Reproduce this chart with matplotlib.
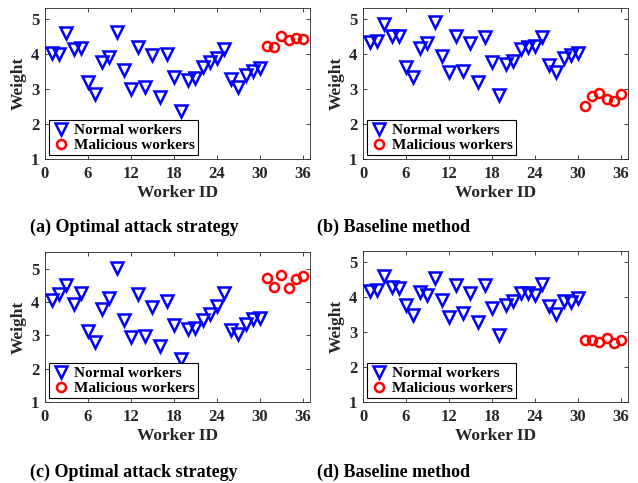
import numpy as np
import matplotlib.pyplot as plt

worker_normal = np.arange(1, 31)
worker_malicious = np.arange(31, 37)

# (a) optimal attack strategy
a_normal = [4.03, 4.0, 4.6, 4.12, 4.15, 3.2, 2.85, 3.75, 3.9, 4.62,
            3.53, 2.98, 4.18, 3.04, 3.96, 2.76, 3.98, 3.33, 2.37, 3.25,
            3.3, 3.63, 3.77, 3.88, 4.12, 3.27, 3.04, 3.39, 3.52, 3.6]
a_malicious = [4.21, 4.2, 4.5, 4.39, 4.45, 4.41]

# (b) baseline method
b_normal = [4.34, 4.37, 4.84, 4.5, 4.51, 3.63, 3.33, 4.17, 4.31, 4.9,
            3.93, 3.49, 4.5, 3.5, 4.29, 3.2, 4.46, 3.77, 2.83, 3.7,
            3.79, 4.12, 4.2, 4.22, 4.46, 3.68, 3.49, 3.87, 3.96, 4.03]
b_malicious = [2.51, 2.78, 2.87, 2.71, 2.64, 2.84]

# (c) optimal attack strategy
c_normal = [4.07, 4.25, 4.5, 3.94, 4.28, 3.14, 2.81, 3.79, 4.11, 5.03,
            3.47, 2.96, 4.23, 2.99, 3.86, 2.69, 4.03, 3.31, 2.29, 3.19,
            3.22, 3.47, 3.64, 3.89, 4.28, 3.16, 3.04, 3.34, 3.49, 3.52]
c_malicious = [4.73, 4.45, 4.8, 4.41, 4.68, 4.78]

# (d) baseline method
d_normal = [4.15, 4.2, 4.58, 4.27, 4.25, 3.75, 3.47, 4.13, 4.06, 4.53,
            3.9, 3.42, 4.34, 3.54, 4.1, 3.28, 4.32, 3.68, 2.92, 3.75,
            3.87, 4.1, 4.1, 4.06, 4.37, 3.73, 3.5, 3.87, 3.85, 3.97]
d_malicious = [2.76, 2.76, 2.72, 2.81, 2.69, 2.76]

captions = ['(a) Optimal attack strategy', '(b) Baseline method',
            '(c) Optimal attack strategy', '(d) Baseline method']
ylims = [5.3, 5.3, 5.5, 5.3]
xticks = [0, 6, 12, 18, 24, 30, 36]
yticks = [1, 2, 3, 4, 5]

plt.rcParams['font.family'] = ['Liberation Serif', 'DejaVu Serif']
plt.rcParams['font.weight'] = 'bold'

W, H = 638, 483
fig = plt.figure(figsize=(W / 100, H / 100), dpi=100)

# axes boxes in pixels: left, top, right, bottom
boxes = [(45, 8, 310, 159), (363, 8, 628, 159),
         (45, 252, 310, 402), (363, 251, 628, 402)]
caption_pos = [(134, 227), (393, 227), (134, 472), (393, 472)]
data = [(a_normal, a_malicious), (b_normal, b_malicious),
        (c_normal, c_malicious), (d_normal, d_malicious)]

axis_gray = '#262626'

for i in range(4):
    l, t, r, b = boxes[i]
    ax = fig.add_axes([l / W, 1 - b / H, (r - l) / W, (b - t) / H])
    normal, malicious = data[i]
    ax.plot(worker_normal, normal, linestyle='none', marker='v', ms=8,
            mfc='none', mec='#0000ff', mew=1.8, label='Normal workers')
    ax.plot(worker_malicious, malicious, linestyle='none', marker='o', ms=6.5,
            mfc='none', mec='#ff0000', mew=1.8, label='Malicious workers')
    ax.set_xlim(0, 37)
    ax.set_ylim(1, ylims[i])
    ax.set_xticks(xticks)
    ax.set_yticks(yticks)
    ax.tick_params(direction='in', top=True, right=True, labelsize=12,
                   colors=axis_gray, length=3, width=0.6)
    ax.tick_params(axis='x', pad=5)
    ax.tick_params(axis='y', pad=4)
    for sp in ax.spines.values():
        sp.set_color(axis_gray)
        sp.set_linewidth(0.6)
    ax.set_xlabel('Worker ID', fontsize=12.5, fontweight='bold', color=axis_gray, labelpad=2)
    ax.set_ylabel('Weight', fontsize=12.5, fontweight='bold', color=axis_gray, labelpad=3)
    leg = ax.legend(loc='lower left', fontsize=11, frameon=True, fancybox=False,
                    edgecolor='black', framealpha=1, handletextpad=0.25,
                    borderpad=0.2, labelspacing=0.1, borderaxespad=0.25,
                    handlelength=1.2)
    leg.get_frame().set_linewidth(0.8)
    cx, cy = caption_pos[i]
    fig.text(cx / W, 1 - cy / H, captions[i], ha='center', va='center',
             fontsize=13, fontweight='bold', color='black')

fig.savefig('out.png', dpi=100)
